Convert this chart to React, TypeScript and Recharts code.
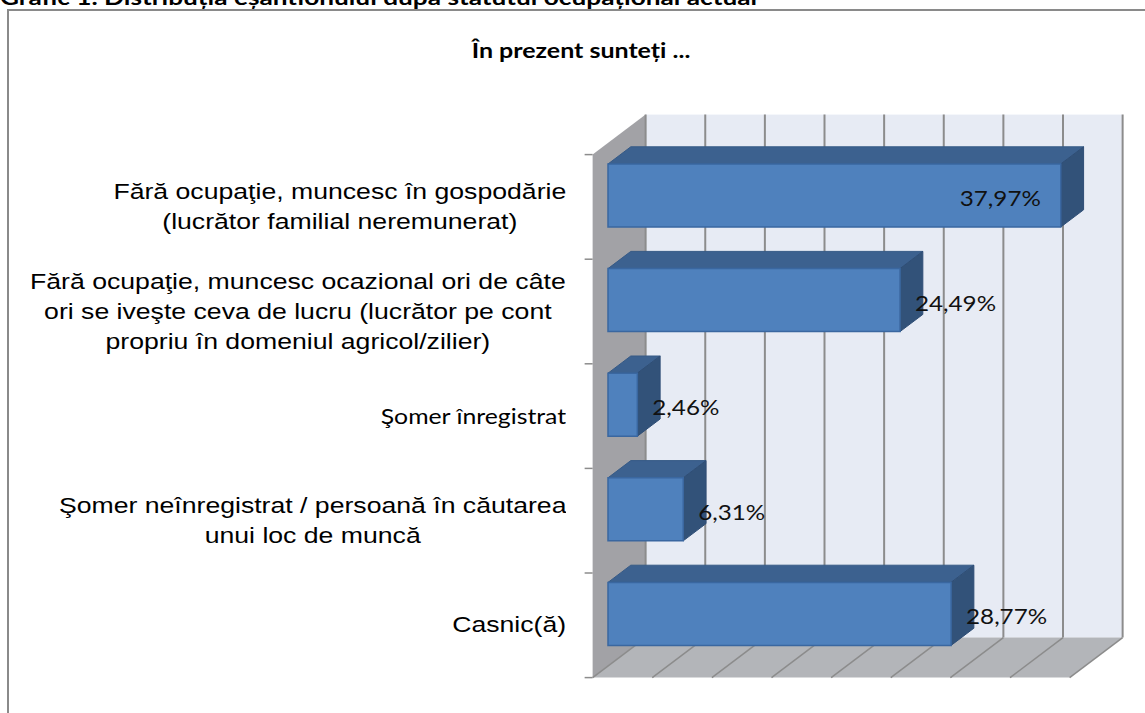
import React from "react";
import { BarChart, Bar, XAxis, YAxis, CartesianGrid, LabelList } from "recharts";

const categories = [
  "Fără ocupaţie, muncesc în gospodărie\n(lucrător familial neremunerat)",
  "Fără ocupaţie, muncesc ocazional ori de câte\nori se iveşte ceva de lucru (lucrător pe cont\npropriu în domeniul agricol/zilier)",
  "Şomer înregistrat",
  "Şomer neînregistrat / persoană în căutarea\nunui loc de muncă",
  "Casnic(ă)",
];
const shares = [37.97, 24.49, 2.46, 6.31, 28.77];
const valueTicks = [0, 5, 10, 15, 20, 25, 30, 35, 40];
const chartTitle = "În prezent sunteți ...";
const caption = "Grafic 1. Distribuția eșantionului după statutul ocupațional actual";

const data = categories.map((name, i) => ({ name, value: shares[i] }));

// layout
const W = 1145;
const H = 713;
const margin = { top: 143, right: 60, bottom: 47, left: 8 };
const Y_AXIS_W = 600;
const L = margin.left + Y_AXIS_W;
const R = W - margin.right;
const T = margin.top;
const B = H - margin.bottom;

// oblique depth of the 3D box, bars sit in the middle of it
const DEPTH = { x: 53, y: -40 };
const FRONT = 0.29;
const BAR_DEPTH = 0.43;
const FS = { x: -DEPTH.x * FRONT, y: -DEPTH.y * FRONT };
const BS = { x: DEPTH.x * (1 - FRONT), y: DEPTH.y * (1 - FRONT) };
const BD = { x: DEPTH.x * BAR_DEPTH, y: DEPTH.y * BAR_DEPTH };

const ARIAL = "'Liberation Sans', Arial, sans-serif";
const CALIBRI = "Lato, 'Open Sans', sans-serif";
const GRID = "#8c8c8c";

const fmt = (v: number) => v.toFixed(2).replace(".", ",") + "%";

const pts = (arr: number[][]) => arr.map((p) => p.join(",")).join(" ");

// walls, floor, frame and titles (drawn under the chart svg)
function Backdrop() {
  const n = categories.length;
  const band = (B - T) / n;
  return (
    <svg width={W} height={H} style={{ position: "absolute", left: 0, top: 0 }}>
      <rect x={8} y={10} width={1300} height={900} fill="#fff" stroke="#8a8a8a" strokeWidth={2} />
      <text
        x={0}
        y={4.5}
        fontFamily={CALIBRI}
        fontWeight={700}
        fontSize={20}
        textLength={757}
        lengthAdjust="spacingAndGlyphs"
        fill="#000"
      >
        {caption}
      </text>
      <text
        transform={`translate(581,58) scale(1.19,1)`}
        textAnchor="middle"
        fontFamily={CALIBRI}
        fontWeight={700}
        fontSize={21}
        fill="#000"
      >
        {chartTitle}
      </text>
      <polygon
        points={pts([
          [L + FS.x, T + FS.y],
          [L + BS.x, T + BS.y],
          [L + BS.x, B + BS.y],
          [L + FS.x, B + FS.y],
        ])}
        fill="#a2a2a6"
      />
      <rect x={L + BS.x} y={T + BS.y} width={R - L} height={B - T} fill="#e7ebf4" />
      <polygon
        points={pts([
          [L + FS.x, B + FS.y],
          [L + BS.x, B + BS.y],
          [R + BS.x, B + BS.y],
          [R + FS.x, B + FS.y],
        ])}
        fill="#b3b5b9"
      />
      {Array.from({ length: n + 1 }, (_, i) => (
        <line
          key={i}
          x1={L + FS.x - 8}
          x2={L + FS.x}
          y1={T + i * band + FS.y}
          y2={T + i * band + FS.y}
          stroke={GRID}
          strokeWidth={1.5}
        />
      ))}
    </svg>
  );
}

const GridLine = (p: any) => {
  const x = p.x1;
  return (
    <g key={p.key}>
      <line x1={x + BS.x} y1={p.y1 + BS.y} x2={x + BS.x} y2={p.y2 + BS.y} stroke={GRID} strokeWidth={2} />
      <line x1={x + FS.x} y1={p.y2 + FS.y} x2={x + BS.x} y2={p.y2 + BS.y} stroke={GRID} strokeWidth={1.5} />
    </g>
  );
};

const Bar3D = (p: any) => {
  const { x, y, width, height } = p;
  if (!width) return null;
  const front = pts([
    [x, y],
    [x + width, y],
    [x + width, y + height],
    [x, y + height],
  ]);
  const top = pts([
    [x, y],
    [x + BD.x, y + BD.y],
    [x + width + BD.x, y + BD.y],
    [x + width, y],
  ]);
  const side = pts([
    [x + width, y],
    [x + width + BD.x, y + BD.y],
    [x + width + BD.x, y + height + BD.y],
    [x + width, y + height],
  ]);
  return (
    <g>
      <polygon points={top} fill="#3c618f" stroke="#365a86" strokeWidth={1} />
      <polygon points={side} fill="#325279" stroke="#2f4e76" strokeWidth={1} />
      <polygon points={front} fill="#4f81bd" stroke="#3a67a0" strokeWidth={1.5} />
    </g>
  );
};

const ValueLabel = (p: any) => {
  const { x, y, width, height, value } = p;
  const end = x + width;
  const cy = y + height / 2 + 2;
  const estW = 82;
  const inside = end + 15 + estW > R + BS.x;
  const tx = inside ? end - 20 : end + 15;
  return (
    <text
      transform={`translate(${tx},${cy}) scale(1.1,1)`}
      textAnchor={inside ? "end" : "start"}
      dominantBaseline="central"
      fontFamily={CALIBRI}
      fontSize={22}
      fill="#111"
    >
      {fmt(value)}
    </text>
  );
};

const CategoryTick = (p: any) => {
  const { y, payload } = p;
  const label = String(payload.value);
  const lines = label.split("\n");
  const cy = y + FS.y;
  const calibri = label === "Şomer înregistrat";
  const right = 566;
  return (
    <foreignObject x={0} y={cy - 70} width={right} height={140}>
      <div
        style={{
          width: right,
          height: 140,
          display: "flex",
          alignItems: "center",
          justifyContent: "flex-end",
        }}
      >
        <div
          style={{
            textAlign: "center",
            whiteSpace: "nowrap",
            transform: calibri ? "scaleX(1.18)" : "scaleX(1.21)",
            transformOrigin: "right center",
            fontFamily: calibri ? CALIBRI : ARIAL,
            fontSize: calibri ? 21 : 22,
            lineHeight: "30px",
            color: "#000",
          }}
        >
          {lines.map((l, i) => (
            <div key={i}>{l}</div>
          ))}
        </div>
      </div>
    </foreignObject>
  );
};

export default function App() {
  return (
    <div style={{ position: "absolute", left: 0, top: 0, width: W, height: H, background: "#fff" }}>
      <Backdrop />
      <div style={{ position: "absolute", left: 0, top: 0 }}>
        <BarChart width={W} height={H} data={data} layout="vertical" margin={margin}>
          <XAxis type="number" domain={[0, 40]} ticks={valueTicks} hide />
          <YAxis
            type="category"
            dataKey="name"
            width={Y_AXIS_W}
            axisLine={false}
            tickLine={false}
            interval={0}
            tick={CategoryTick}
          />
          <CartesianGrid horizontal={false} vertical={GridLine} stroke={GRID} />
          <Bar dataKey="value" barSize={63} shape={Bar3D} isAnimationActive={false}>
            <LabelList dataKey="value" content={ValueLabel} />
          </Bar>
        </BarChart>
      </div>
    </div>
  );
}
